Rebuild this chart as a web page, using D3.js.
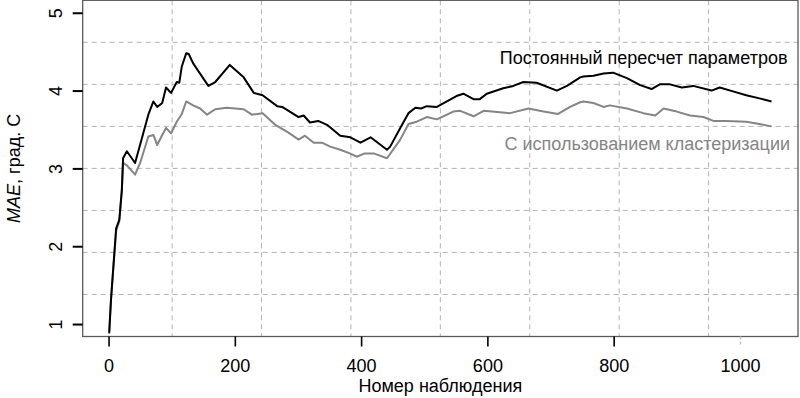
<!DOCTYPE html>
<html>
<head>
<meta charset="utf-8">
<script src="https://cdn.jsdelivr.net/npm/d3@7"></script>
<style>
  body { margin: 0; background: #fff; }
  text { font-family: "Liberation Sans", Arial, sans-serif; }
</style>
</head>
<body>
<div id="chart"></div>
<script>
var fullRecalc = [
    [1, 0.88], [3, 1.18], [4, 1.33], [12, 2.23], [17, 2.34], [21, 2.72], [23, 3.13], [29, 3.22],
    [42, 3.07], [63, 3.69], [71, 3.86], [77, 3.79], [85, 3.84], [91, 4.04], [99, 3.97], [108, 4.11],
    [112, 4.10], [116, 4.31], [123, 4.48], [127, 4.47], [134, 4.35], [158, 4.06], [169, 4.11],
    [192, 4.33], [214, 4.17], [230, 3.97], [244, 3.94], [267, 3.80], [275, 3.79], [301, 3.66],
    [309, 3.68], [319, 3.59], [332, 3.61], [346, 3.56], [367, 3.42], [383, 3.40], [399, 3.33],
    [415, 3.40], [441, 3.24], [446, 3.28], [462, 3.52], [475, 3.71], [486, 3.78], [495, 3.77],
    [504, 3.80], [520, 3.79], [551, 3.93], [562, 3.96], [578, 3.89], [588, 3.89], [599, 3.96],
    [625, 4.03], [641, 4.06], [657, 4.11], [678, 4.10], [710, 4.00], [726, 4.06], [747, 4.17],
    [752, 4.18], [768, 4.19], [784, 4.22], [799, 4.23], [821, 4.16], [842, 4.07], [860, 4.02],
    [873, 4.08], [889, 4.08], [908, 4.04], [926, 4.06], [955, 4.00], [968, 4.04], [989, 3.99],
    [1010, 3.94], [1031, 3.90], [1050, 3.86]
];
var clustered = [
    [1, 0.90], [3, 1.20], [4, 1.33], [12, 2.20], [17, 2.32], [21, 2.70], [23, 3.07], [29, 3.04],
    [42, 2.92], [50, 3.07], [63, 3.41], [71, 3.43], [77, 3.30], [85, 3.43], [91, 3.52], [99, 3.45],
    [108, 3.60], [116, 3.70], [123, 3.86], [134, 3.81], [145, 3.77], [156, 3.69], [169, 3.76],
    [187, 3.78], [214, 3.76], [227, 3.69], [244, 3.71], [264, 3.56], [285, 3.46], [301, 3.37],
    [311, 3.42], [325, 3.33], [338, 3.33], [351, 3.28], [367, 3.24], [383, 3.19], [393, 3.15],
    [405, 3.19], [421, 3.19], [441, 3.13], [462, 3.37], [475, 3.57], [488, 3.60], [504, 3.66],
    [520, 3.63], [546, 3.73], [557, 3.74], [578, 3.67], [594, 3.74], [620, 3.72], [636, 3.71],
    [665, 3.77], [689, 3.73], [712, 3.70], [731, 3.79], [747, 3.85], [752, 3.86], [768, 3.84],
    [784, 3.79], [794, 3.81], [821, 3.77], [847, 3.71], [866, 3.68], [879, 3.77], [900, 3.73],
    [921, 3.68], [942, 3.66], [958, 3.61], [979, 3.61], [1010, 3.60], [1031, 3.57], [1050, 3.54]
];
var xTicks = [0, 200, 400, 600, 800, 1000];
var yTicks = [1, 2, 3, 4, 5];
var seriesLabels = ["Постоянный пересчет параметров", "С использованием кластеризации"];
var xTitle = "Номер наблюдения";

var w = 800, h = 398;
var margin = { left: 82.7, right: 2, top: 0.3, bottom: 61.5 };
var fontSize = 18;

var svg = d3.select("#chart").append("svg")
    .attr("width", w)
    .attr("height", h);

// R-style 4% padding on both axes
var xExt = [1, 1050], yExt = [1, 5];
var xPad = (xExt[1] - xExt[0]) * 0.04, yPad = (yExt[1] - yExt[0]) * 0.04;
var scaleX = d3.scaleLinear()
    .domain([xExt[0] - xPad, xExt[1] + xPad])
    .range([margin.left, w - margin.right]);
var scaleY = d3.scaleLinear()
    .domain([yExt[0] - yPad, yExt[1] + yPad])
    .range([h - margin.bottom, margin.top]);

// grid(8, 8): equal divisions of the plot region
var grid = svg.append("g");
var xd = scaleX.domain(), yd = scaleY.domain();
d3.range(1, 8).forEach(function (k) {
    var gx = scaleX(xd[0] + k * (xd[1] - xd[0]) / 8);
    var gy = scaleY(yd[0] + k * (yd[1] - yd[0]) / 8);
    grid.append("line")
        .attr("x1", gx).attr("x2", gx)
        .attr("y1", scaleY.range()[1]).attr("y2", scaleY.range()[0]);
    grid.append("line")
        .attr("x1", scaleX.range()[0]).attr("x2", scaleX.range()[1])
        .attr("y1", gy).attr("y2", gy);
});
grid.selectAll("line")
    .attr("stroke", "#b4b4b4")
    .attr("stroke-width", 1)
    .attr("stroke-dasharray", "5,4");

var line = d3.line()
    .x((d) => scaleX(d[0]))
    .y((d) => scaleY(d[1]));

svg.append("path")
    .datum(clustered)
    .attr("d", line)
    .attr("fill", "none")
    .attr("stroke", "#858585")
    .attr("stroke-width", 2)
    .attr("stroke-linejoin", "round");

svg.append("path")
    .datum(fullRecalc)
    .attr("d", line)
    .attr("fill", "none")
    .attr("stroke", "#000")
    .attr("stroke-width", 2)
    .attr("stroke-linejoin", "round");

// box
svg.append("rect")
    .attr("x", scaleX.range()[0])
    .attr("y", scaleY.range()[1])
    .attr("width", scaleX.range()[1] - scaleX.range()[0])
    .attr("height", scaleY.range()[0] - scaleY.range()[1])
    .attr("fill", "none")
    .attr("stroke", "#5a5a5a")
    .attr("stroke-width", 1.3);

// x axis
var xAxis = d3.axisBottom(scaleX)
    .tickValues(xTicks)
    .tickSize(10)
    .tickPadding(13)
    .tickFormat(d3.format("d"));
var gx = svg.append("g")
    .attr("transform", "translate(0," + scaleY.range()[0] + ")")
    .call(xAxis);
gx.select(".domain").remove();
gx.selectAll(".tick line")
    .attr("stroke", (d) => d === 1000 ? "#c8c8c8" : "#000")
    .attr("stroke-dasharray", (d) => d === 1000 ? "3,2" : null)
    .attr("stroke-width", 1.6);
gx.selectAll(".tick text")
    .attr("fill", "#000")
    .style("font-size", fontSize + "px")
    .style("font-family", "Liberation Sans, Arial, sans-serif");

// y axis
var yAxis = d3.axisLeft(scaleY)
    .tickValues(yTicks)
    .tickSize(10)
    .tickFormat(d3.format("d"));
var gy = svg.append("g")
    .attr("transform", "translate(" + scaleX.range()[0] + ",0)")
    .call(yAxis);
gy.select(".domain").remove();
gy.selectAll(".tick line")
    .attr("stroke", "#000")
    .attr("stroke-width", 2);
gy.selectAll(".tick text")
    .attr("x", null)
    .attr("dy", null)
    .attr("transform", "translate(-20.5,0) rotate(-90)")
    .attr("text-anchor", "middle")
    .attr("fill", "#000")
    .style("font-size", fontSize + "px")
    .style("font-family", "Liberation Sans, Arial, sans-serif");

// axis titles
svg.append("text")
    .attr("x", (scaleX.range()[0] + scaleX.range()[1]) / 2)
    .attr("y", 392)
    .attr("text-anchor", "middle")
    .style("font-size", fontSize + "px")
    .text(xTitle);

var yt = svg.append("text")
    .attr("transform", "translate(19.5," + (scaleY.range()[0] + scaleY.range()[1]) / 2 + ") rotate(-90)")
    .attr("text-anchor", "middle")
    .style("font-size", fontSize + "px");
yt.append("tspan").style("font-style", "italic").text("MAE");
yt.append("tspan").text(", град. С");

// series labels
svg.append("text")
    .attr("x", 787.5)
    .attr("y", 64)
    .attr("text-anchor", "end")
    .attr("fill", "#000")
    .style("font-size", fontSize + "px")
    .text(seriesLabels[0]);
svg.append("text")
    .attr("x", 790)
    .attr("y", 150)
    .attr("text-anchor", "end")
    .attr("fill", "#858585")
    .style("font-size", fontSize + "px")
    .text(seriesLabels[1]);
</script>
</body>
</html>
